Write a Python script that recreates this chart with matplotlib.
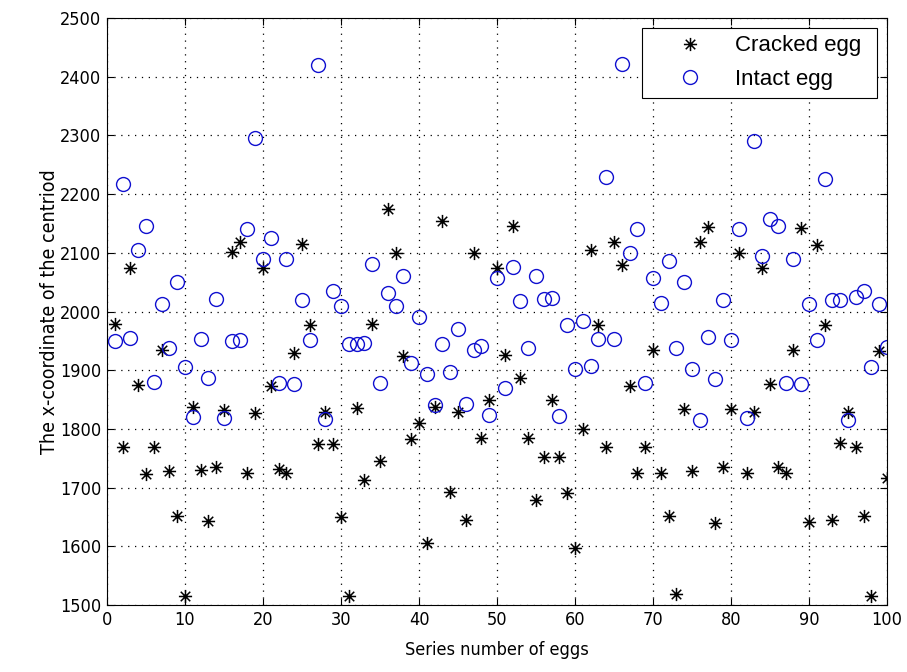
import matplotlib
matplotlib.use("Agg")
import matplotlib.pyplot as plt
from matplotlib import font_manager
from matplotlib.path import Path
from matplotlib.font_manager import FontProperties

series = list(range(1, 101))
cracked = [1978, 1770, 2074, 1874, 1723, 1770, 1934, 1728, 1652, 1516,
           1838, 1730, 1643, 1735, 1832, 2102, 2119, 1725, 1827, 2074,
           1873, 1732, 1725, 1929, 2115, 1977, 1774, 1828, 1774, 1650,
           1516, 1836, 1713, 1979, 1745, 2174, 2099, 1925, 1782, 1810,
           1606, 1837, 2155, 1692, 1829, 1644, 2100, 1784, 1850, 2074,
           1926, 2146, 1886, 1784, 1679, 1752, 1850, 1752, 1691, 1597,
           1799, 2105, 1977, 1770, 2118, 2079, 1873, 1725, 1770, 1935,
           1725, 1652, 1518, 1834, 1728, 2119, 2144, 1640, 1735, 1834,
           2100, 1725, 1828, 2074, 1877, 1735, 1725, 1934, 2142, 1642,
           2113, 1977, 1644, 1776, 1828, 1770, 1652, 1516, 1932, 1717]
intact = [1950, 2218, 1955, 2105, 2145, 1880, 2012, 1937, 2050, 1905,
          1820, 1954, 1887, 2022, 1818, 1950, 1952, 2141, 2295, 2090,
          2126, 1878, 2089, 1877, 2019, 1952, 2420, 1817, 2035, 2010,
          1944, 1944, 1946, 2081, 1878, 2032, 2010, 2061, 1912, 1990,
          1894, 1840, 1944, 1897, 1970, 1842, 1935, 1941, 1824, 2057,
          1870, 2075, 2018, 1937, 2060, 2021, 2023, 1822, 1977, 1902,
          1984, 1908, 1954, 2229, 1954, 2421, 2100, 2141, 1878, 2057,
          2015, 2086, 1937, 2050, 1902, 1815, 1957, 1885, 2020, 1952,
          2140, 1818, 2290, 2095, 2157, 2145, 1878, 2089, 1877, 2013,
          1951, 2226, 2020, 2020, 1815, 2024, 2035, 1905, 2013, 1940]
xticks = [0, 10, 20, 30, 40, 50, 60, 70, 80, 90, 100]
yticks = [1500, 1600, 1700, 1800, 1900, 2000, 2100, 2200, 2300, 2400, 2500]

# look for a condensed/narrow sans font for MATLAB-like tick labels
narrow_file = None
for f in font_manager.fontManager.ttflist:
    fn = f.fname.lower()
    if (('narrow' in fn or 'condensed' in fn) and 'bold' not in fn
            and 'italic' not in fn and 'oblique' not in fn and 'light' not in fn
            and 'mono' not in fn and 'serif' not in fn.replace('sans', '')):
        narrow_file = f.fname
        break

plt.rcParams['font.family'] = ['Liberation Sans', 'DejaVu Sans']
if narrow_file:
    tick_fp = FontProperties(fname=narrow_file, size=13)
    xlab_fp = FontProperties(fname=narrow_file, size=13)
    ylab_fp = FontProperties(fname=narrow_file, size=14)
else:
    tick_fp = FontProperties(family=['Liberation Sans', 'DejaVu Sans'], size=12.5)
    xlab_fp = FontProperties(family=['Liberation Sans', 'DejaVu Sans'], size=12.5)
    ylab_fp = FontProperties(family=['Liberation Sans', 'DejaVu Sans'], size=13.5)

# MATLAB-style asterisk: '+' plus a slightly shorter 'x'
d = 0.72
verts = [(-1, 0), (1, 0), (0, -1), (0, 1), (-d, -d), (d, d), (-d, d), (d, -d)]
codes = [Path.MOVETO, Path.LINETO] * 4
star = Path(verts, codes)

fig = plt.figure(figsize=(9.07, 6.72), dpi=100)
ax = fig.add_axes([0.118, 0.0997, 0.860, 0.8735])

ax.plot(series, cracked, linestyle='none', marker=star, color='black',
        markerfacecolor='none', markeredgecolor='black',
        markersize=9.5, markeredgewidth=1.1, label='Cracked egg')
ax.plot(series, intact, linestyle='none', marker='o', markerfacecolor='none',
        markeredgecolor='#1010d0', markersize=10, markeredgewidth=1.0,
        label='Intact egg')

ax.set_xlim(0, 100)
ax.set_ylim(1500, 2500)
ax.set_xticks(xticks)
ax.set_yticks(yticks)
ax.tick_params(direction='in', top=True, right=True, length=5, width=0.8, pad=4)
for lbl in ax.get_xticklabels() + ax.get_yticklabels():
    lbl.set_fontproperties(tick_fp)
ax.grid(True, linestyle=(0, (1, 4.5)), color='black', linewidth=0.9)
for s in ax.spines.values():
    s.set_linewidth(0.8)

ax.set_xlabel('Series number of eggs', fontproperties=xlab_fp, labelpad=9)
ax.set_ylabel('The x-coordinate of the centriod', fontproperties=ylab_fp, labelpad=1)

leg = ax.legend(loc='upper right', bbox_to_anchor=(0.686, 0.80, 0.301, 0.1835),
                mode='expand',
                fancybox=False, edgecolor='black', framealpha=1,
                prop={'family': ['Liberation Sans', 'DejaVu Sans'], 'size': 16},
                borderpad=0.35, labelspacing=0.57, handletextpad=0.23,
                handlelength=3.6, borderaxespad=0.0)
leg.get_frame().set_linewidth(0.8)

fig.savefig('out.png', dpi=100, facecolor='white')
